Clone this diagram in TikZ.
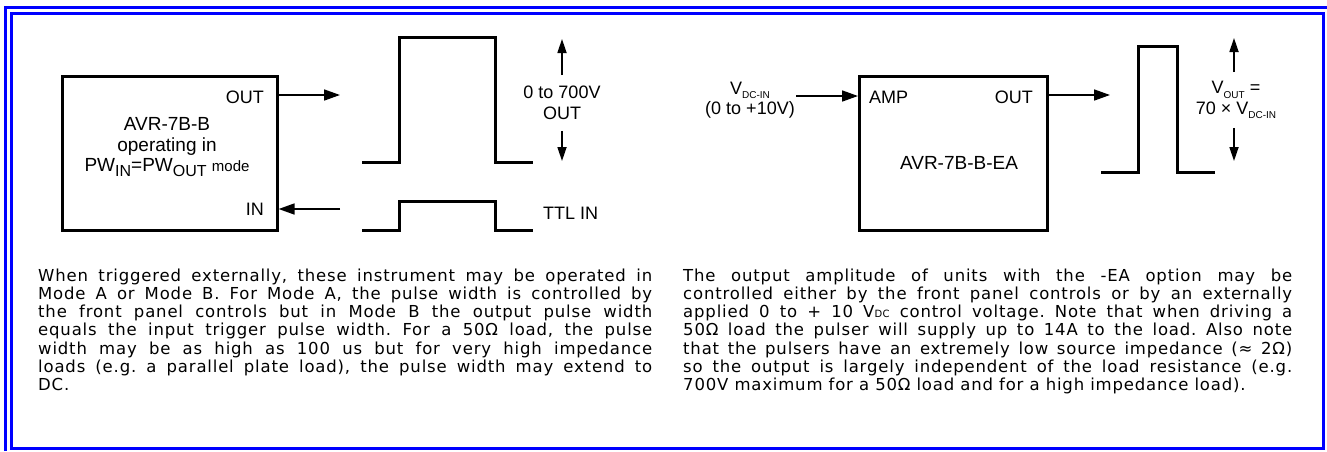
\documentclass[tikz,border=0pt]{standalone}
\usepackage{fontspec}
\setmainfont{Liberation Sans}
\newfontfamily\parafont[LetterSpace=5]{DejaVu Sans}
\usetikzlibrary{arrows.meta}
\definecolor{frameblue}{RGB}{0,0,255}
\newcommand{\sbs}[1]{\raisebox{-4.5pt}{\fontsize{10}{10}\selectfont #1}}
\newcommand{\bigsbs}[1]{\raisebox{-4.5pt}{\fontsize{16}{16}\selectfont #1}}
\newcommand{\jline}[1]{\makebox[\linew][s]{#1}}
\newlength{\linew}
\begin{document}
\begin{tikzpicture}[x=1pt,y=-1pt,
  frame/.style={draw=frameblue, line width=3pt},
  unitbox/.style={draw, line width=2.6pt, minimum width=215pt, minimum height=154pt, anchor=north west, inner sep=0pt},
  lbl/.style={font=\fontsize{18}{20.5}\selectfont, inner sep=0pt, align=center},
  namelbl/.style={font=\fontsize{19}{20.5}\selectfont, inner sep=0pt, align=center},
  sig/.style={line width=3pt, line join=miter},
  conn/.style={line width=1.7pt, -{Triangle[length=16pt,width=11pt]}},
  meas/.style={line width=1.7pt, -{Triangle[length=14pt,width=9pt]}},
  para/.style={inner sep=0pt, anchor=base west}
]
\useasboundingbox (0,0) rectangle (1327,451);
% frame
\draw[frame] (5.5,451) -- (5.5,7.5) -- (1327,7.5);
\draw[frame] (11.5,13.5) rectangle (1323.5,448.5);

% ---------- left diagram ----------
\node[unitbox] (boxA) at (61,75) {};
\node[lbl, anchor=east] (outA) at (264,97) {OUT};
\node[lbl, anchor=east] (inA) at (264,209) {IN};
\node[namelbl] (nameA) at (167,147) {AVR-7B-B\\operating in\\PW\bigsbs{IN}=PW\bigsbs{OUT} {\fontsize{15}{15}\selectfont mode}};
\coordinate (aOutEnd) at (340,95);
\draw[conn] (boxA.east |- aOutEnd) -- (aOutEnd);
\coordinate (aInStart) at (340,209);
\draw[conn] (aInStart) -- (boxA.east |- aInStart);
\draw[sig] (362,162) -- (399,162) -- (399,37) -- (495,37) -- (495,162) -- (533,162);
\draw[sig] (362,230) -- (399,230) -- (399,201) -- (495,201) -- (495,230) -- (533,230);
\node[lbl, inner ysep=11pt] (ampA) at (562,103) {0 to 700V\\OUT};
\coordinate (ampAtop) at (562,39);
\coordinate (ampAbot) at (562,161);
\draw[meas] (ampA.north) -- (ampAtop);
\draw[meas] (ampA.south) -- (ampAbot);
\node[lbl, anchor=west] (ttlA) at (543,213) {TTL IN};

% ---------- right diagram ----------
\node[lbl] (vin) at (750,100) {V\sbs{DC-IN}\\(0 to +10V)};
\node[unitbox, minimum width=188pt] (boxB) at (858,75) {};
\node[lbl, anchor=west] (ampB) at (869,97) {AMP};
\node[lbl, anchor=east] (outB) at (1033,97) {OUT};
\node[namelbl] (nameB) at (959,163) {AVR-7B-B-EA};
\coordinate (bInStart) at (796,96);
\draw[conn] (bInStart) -- (boxB.west |- bInStart);
\coordinate (bOutEnd) at (1110,95);
\draw[conn] (boxB.east |- bOutEnd) -- (bOutEnd);
\draw[sig] (1101,172) -- (1138,172) -- (1138,46) -- (1177,46) -- (1177,172) -- (1215,172);
\node[lbl, inner ysep=9pt] (voutB) at (1236,100) {V\sbs{OUT} =\\70 × V\sbs{DC-IN}};
\coordinate (voutTop) at (1234,38);
\coordinate (voutBot) at (1234,161);
\draw[meas] (voutB.north -| voutTop) -- (voutTop);
\draw[meas] (voutB.south -| voutBot) -- (voutBot);

% ---------- paragraphs ----------
\setlength{\linew}{614pt}
\node[para] (paraL) at (38,281) {\parbox[t]{614pt}{\parafont\fontsize{16.5}{18.3}\selectfont\frenchspacing
\jline{When triggered externally, these instrument may be operated in}\\
\jline{Mode A or Mode B. For Mode A, the pulse width is controlled by}\\
\jline{the front panel controls but in Mode B the output pulse width}\\
\jline{equals the input trigger pulse width. For a 50Ω load, the pulse}\\
\jline{width may be as high as 100 us but for very high impedance}\\
\jline{loads (e.g. a parallel plate load), the pulse width may extend to}\\
DC.}};
\setlength{\linew}{609pt}
\node[para] (paraR) at (683,281) {\parbox[t]{609pt}{\parafont\fontsize{16.5}{18.3}\selectfont\frenchspacing
\jline{The output amplitude of units with the -EA option may be}\\
\jline{controlled either by the front panel controls or by an externally}\\
\jline{applied 0 to + 10 V{\fontsize{10}{10}\selectfont DC} control voltage. Note that when driving a}\\
\jline{50Ω load the pulser will supply up to 14A to the load. Also note}\\
\jline{that the pulsers have an extremely low source impedance (≈ 2Ω)}\\
\jline{so the output is largely independent of the load resistance (e.g.}\\
700V maximum for a 50Ω load and for a high impedance load).}};
\end{tikzpicture}
\end{document}
